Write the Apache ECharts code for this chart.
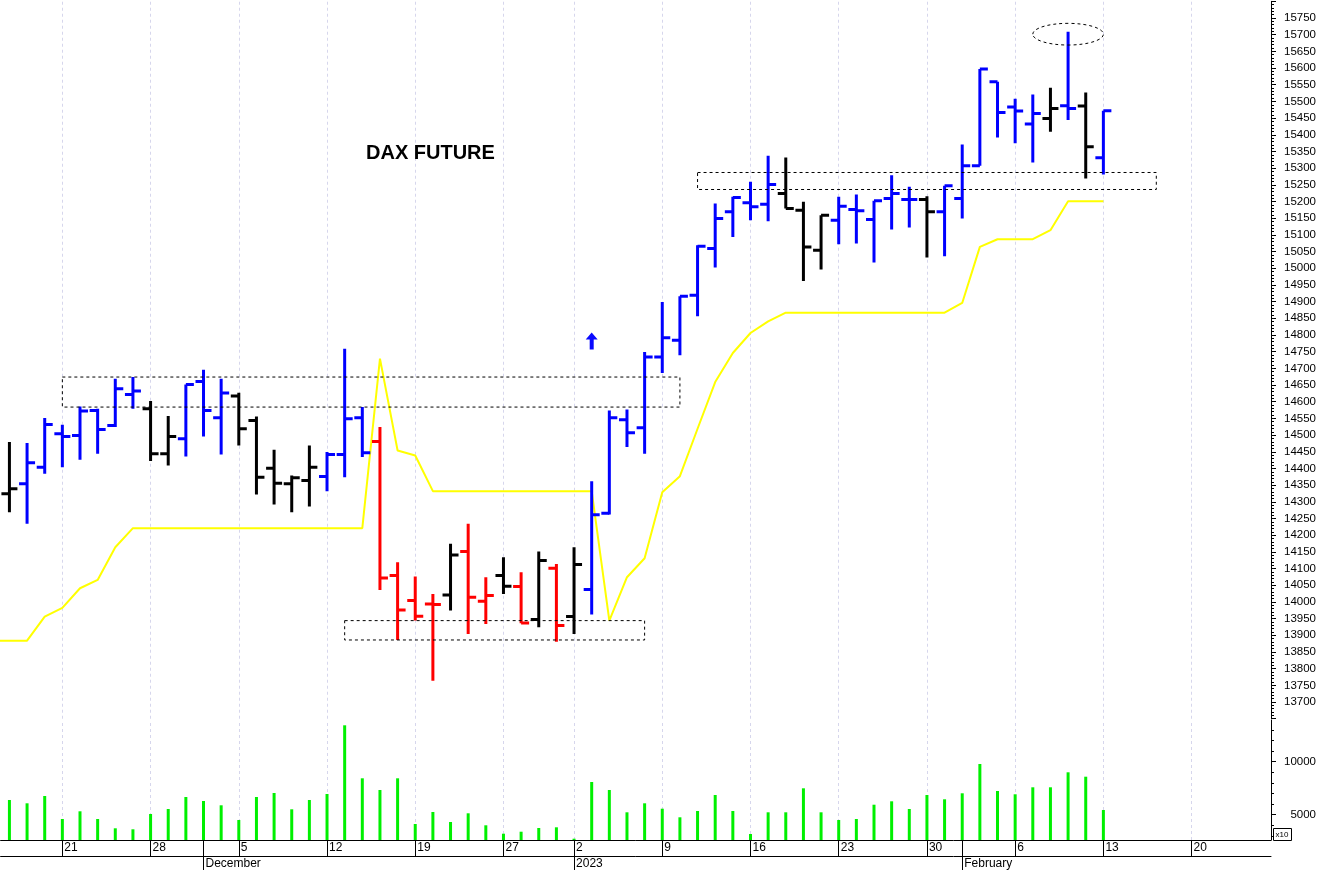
<!DOCTYPE html>
<html><head><meta charset="utf-8">
<script src="https://cdn.jsdelivr.net/npm/echarts@6/dist/echarts.min.js"></script>
<style>html,body{margin:0;padding:0;background:#fff}#c{width:1319px;height:870px}</style>
</head><body><div id="c"></div>
<script>
// ---- data ----
const dates = [
'2022-11-15','2022-11-16','2022-11-17','2022-11-18','2022-11-21','2022-11-22','2022-11-23','2022-11-24','2022-11-25','2022-11-28','2022-11-29','2022-11-30',
'2022-12-01','2022-12-02','2022-12-05','2022-12-06','2022-12-07','2022-12-08','2022-12-09','2022-12-12','2022-12-13','2022-12-14','2022-12-15','2022-12-16','2022-12-19','2022-12-20','2022-12-21','2022-12-22','2022-12-23','2022-12-27','2022-12-28','2022-12-29','2022-12-30',
'2023-01-02','2023-01-03','2023-01-04','2023-01-05','2023-01-06','2023-01-09','2023-01-10','2023-01-11','2023-01-12','2023-01-13','2023-01-16','2023-01-17','2023-01-18','2023-01-19','2023-01-20','2023-01-23','2023-01-24','2023-01-25','2023-01-26','2023-01-27','2023-01-30','2023-01-31',
'2023-02-01','2023-02-02','2023-02-03','2023-02-06','2023-02-07','2023-02-08','2023-02-09','2023-02-10','2023-02-13','2023-02-14','2023-02-15','2023-02-16','2023-02-17','2023-02-20','2023-02-21','2023-02-22','2023-02-23','2023-02-24'];

const opens = [null,14324,14354,14404,14504,14499,14574,14529,14622,14579,14444,14489,
14661,14552,14617,14544,14401,14354,14364,14376,14442,14552,14481,14079,14004,13994,14021,14151,14002,14079,14046,13947,14101,
13956,14037,14266,14546,14522,14734,14784,14919,15059,15169,15196,15192,15224,15174,15054,15144,15176,15146,15209,15206,15206,15169,
15209,15307,15559,15483,15432,15449,15487,15486,15331];
const highs = [null,14479,14476,14551,14531,14586,14579,14669,14674,14602,14557,14652,
14696,14669,14627,14556,14456,14379,14469,14449,14759,14584,14524,14119,14076,14024,14174,14234,14074,14134,14089,14151,14114,
14164,14362,14574,14577,14749,14899,14916,15069,15194,15214,15259,15337,15332,15199,15159,15214,15221,15202,15279,15244,15216,15247,
15371,15597,15559,15508,15521,15541,15709,15527,15472];
const lows = [null,14269,14234,14384,14404,14426,14444,14524,14579,14422,14409,14436,
14496,14442,14469,14322,14292,14269,14286,14332,14374,14434,14036,13886,13944,13764,13974,13904,13934,14024,13936,13924,13881,
13904,13962,14262,14464,14444,14686,14739,14856,15002,15094,15144,15141,15179,14962,14996,15072,15074,15017,15116,15122,15032,15036,
15149,15307,15392,15375,15317,15409,15444,15269,15281];
const closes = [null,14339,14417,14532,14496,14572,14517,14639,14632,14444,14496,14652,
14574,14626,14519,14374,14356,14372,14404,14442,14549,14447,14072,13976,13957,13992,14141,14014,14019,14047,13937,14124,13929,
14112,14261,14552,14507,14734,14792,14916,15066,15149,15212,15184,15251,15179,15064,15159,15186,15172,15202,15224,15206,15169,15247,
15307,15597,15467,15471,15464,15479,15479,15364,15472];
// b = blue, k = black, r = red
const barColors = [null,'k','b','b','b','b','b','b','b','k','k','b',
'b','b','k','k','k','k','k','b','b','b','r','r','r','r','k','r','r','k','r','k','r',
'k','b','b','b','b','b','b','b','b','b','b','b','k','k','k','b','b','b','b','b','k','b',
'b','b','b','b','b','k','b','k','b'];
const stopLine = [13884,13884,13884,13956,13982,14041,14066,14164,14221,14221,14221,14221,
14221,14221,14221,14221,14221,14221,14221,14221,14221,14221,14729,14454,14439,14332,14332,14332,14332,14332,14332,14332,14332,
14332,14332,13944,14074,14131,14329,14377,14519,14659,14746,14806,14841,14867,14867,14867,14867,14867,14867,14867,14867,14867,14867,
14896,15064,15087,15087,15087,15114,15201,15201,15201];
const volumes = [null,6387,6075,6764,4594,5321,4594,3717,3623,5066,5538,6670,
6292,5887,4500,6670,7047,5509,6387,6953,13434,8434,7330,8434,4123,5255,4311,5132,4000,3208,3396,3745,3811,
2736,8085,7330,5226,6075,5566,4755,5349,6858,5349,3179,5226,5226,7490,5226,4500,4594,5943,6264,5538,6858,6453,
7019,9783,7236,6925,7585,7585,9000,8585,5443];

const weekStarts = ['2022-11-21','2022-11-28','2022-12-05','2022-12-12','2022-12-19','2022-12-27','2023-01-02','2023-01-09','2023-01-16','2023-01-23','2023-01-30','2023-02-06','2023-02-13','2023-02-20'];
const monthStarts = ['2022-12-01','2023-01-02','2023-02-01'];
const monthLabels = ['December','2023','February'];
const priceTicks = {min: 13650, max: 15800, step: 50, firstLabel: 13700, lastLabel: 15750};
const volumeLabels = [5000, 10000];
const volumeMinor = [3000,4000,6000,7000,8000,9000,11000,12000,13000];

// annotations
const boxes = [
  {from:'2022-11-21', to:'2023-01-10', top:14674, bottom:14584},
  {from:'2022-12-13', to:'2023-01-06', top:13944, bottom:13886},
  {from:'2023-01-11', to:'2023-02-16', top:15287, bottom:15236}
];
const ellipseMark = {from:'2023-02-07', to:'2023-02-13', top:15734, bottom:15669};
const arrowMark = {date:'2023-01-03', price:14782};

// ---- chart ----
const colorMap = {b:'#0000ff', k:'#000000', r:'#ff0000'};
const weekSet = new Set(weekStarts);
const monthSet = new Set(monthStarts);
const tickSet = new Set(weekStarts.concat(monthStarts));
const FONT = 'Liberation Sans, Arial, sans-serif';
const FIRST_VISIBLE = 1; // first category shown at the left edge (the one before is cut off)

const ohlcData = [];
for (let i = 0; i < opens.length; i++) {
  if (opens[i] == null) continue;
  ohlcData.push([i, opens[i], highs[i], lows[i], closes[i]]);
}
const gridLines = {
  silent: true, symbol: ['none','none'], z: 1, animation: false,
  label: {show: false},
  lineStyle: {color: '#d6d6ec', type: [3,3], width: 1},
  data: weekStarts.map(d => ({xAxis: d}))
};

const chart = echarts.init(document.getElementById('c'), null, {renderer: 'canvas'});
const gridLeft = 0.6, gridRight = 47.9;
chart.setOption({
  animation: false,
  backgroundColor: '#ffffff',
  title: {text: 'DAX FUTURE', left: 366, top: 143, padding: 0,
    textStyle: {fontFamily: FONT, fontSize: 20, fontWeight: 'bold', color: '#000'}},
  grid: [
    {left: gridLeft, right: gridRight, top: 1.32, height: 717.4},
    {left: gridLeft, right: gridRight, top: 720, height: 120}
  ],
  xAxis: [
    {type: 'category', gridIndex: 0, data: dates, min: FIRST_VISIBLE, boundaryGap: true, show: false},
    {type: 'category', gridIndex: 1, data: dates, min: FIRST_VISIBLE, boundaryGap: true, position: 'bottom',
      axisLine: {show: true, lineStyle: {color: '#000', width: 1}},
      axisTick: {show: true, alignWithLabel: true, length: 16, lineStyle: {color: '#000'},
        interval: (i, v) => tickSet.has(v)},
      axisLabel: {show: true, interval: (i, v) => weekSet.has(v), formatter: v => String(parseInt(v.slice(8), 10)),
        align: 'left', margin: 2, padding: [0,0,0,2], fontSize: 12, fontFamily: FONT, color: '#000'},
      splitLine: {show: false}},
    {type: 'category', gridIndex: 1, data: dates, min: FIRST_VISIBLE, boundaryGap: true, position: 'bottom', offset: 16,
      axisLine: {show: true, lineStyle: {color: '#000', width: 1}},
      axisTick: {show: true, alignWithLabel: true, length: 14, lineStyle: {color: '#000'},
        interval: (i, v) => monthSet.has(v)},
      axisLabel: {show: true, interval: (i, v) => monthSet.has(v), formatter: v => monthLabels[monthStarts.indexOf(v)] || '',
        align: 'left', margin: 2, padding: [0,0,0,2], fontSize: 12, fontFamily: FONT, color: '#000'},
      splitLine: {show: false}}
  ],
  yAxis: [
    {type: 'value', gridIndex: 0, position: 'right', min: priceTicks.min, max: priceTicks.max, interval: priceTicks.step,
      axisLine: {show: true, lineStyle: {color: '#000'}},
      axisTick: {show: true, length: 5, lineStyle: {color: '#000'}},
      minorTick: {show: true, splitNumber: 5, length: 3, lineStyle: {color: '#000'}},
      axisLabel: {formatter: v => (v < priceTicks.firstLabel || v > priceTicks.lastLabel) ? '' : String(v),
        align: 'right', margin: 45, fontSize: 11.5, fontFamily: FONT, color: '#000'},
      splitLine: {show: false}},
    {type: 'value', gridIndex: 1, position: 'right', min: 2613, max: 13934,
      axisLine: {show: true, lineStyle: {color: '#000'}},
      axisTick: {show: true, length: 5, customValues: volumeLabels, lineStyle: {color: '#000'}},
      axisLabel: {customValues: volumeLabels, formatter: v => String(v),
        align: 'right', margin: 45, fontSize: 11.5, fontFamily: FONT, color: '#000'},
      splitLine: {show: false}},
    {type: 'value', gridIndex: 1, position: 'right', min: 2613, max: 13934,
      axisLine: {show: false},
      axisTick: {show: true, length: 3, customValues: volumeMinor, lineStyle: {color: '#000'}},
      axisLabel: {show: false},
      splitLine: {show: false}}
  ],
  series: [
    {type: 'line', name: 'stop', xAxisIndex: 0, yAxisIndex: 0, data: stopLine, showSymbol: false, symbol: 'none',
      clip: true,
      lineStyle: {color: '#ffff00', width: 2}, itemStyle: {color: '#ffff00'}, z: 2,
      markLine: gridLines,
      markArea: {silent: true, z: 6,
        itemStyle: {color: 'rgba(0,0,0,0)', borderColor: '#000', borderWidth: 1, borderType: [3,3]},
        label: {show: false},
        data: boxes.map(b => [{xAxis: b.from, yAxis: b.top}, {xAxis: b.to, yAxis: b.bottom}])},
      markPoint: {silent: true, label: {show: false},
        data: [{coord: [arrowMark.date, arrowMark.price],
          symbol: 'path://M6,0 L12,7 L8,7 L8,17 L4,17 L4,7 L0,7 Z', symbolSize: [12,17],
          itemStyle: {color: '#0a0aff'}}]}
    },
    {type: 'custom', name: 'ohlc', xAxisIndex: 0, yAxisIndex: 0, z: 4, clip: true,
      encode: {x: 0, y: [1,2,3,4]},
      data: ohlcData,
      renderItem: function (params, api) {
        const i = api.value(0);
        const pO = api.coord([i, api.value(1)]);
        const pH = api.coord([i, api.value(2)]);
        const pL = api.coord([i, api.value(3)]);
        const pC = api.coord([i, api.value(4)]);
        const x = pH[0];
        const style = {stroke: colorMap[barColors[i]], lineWidth: 3};
        return {type: 'group', children: [
          {type: 'line', shape: {x1: x, y1: pH[1], x2: x, y2: pL[1]}, style: style},
          {type: 'line', shape: {x1: x - 8, y1: pO[1], x2: x, y2: pO[1]}, style: style},
          {type: 'line', shape: {x1: x, y1: pC[1], x2: x + 8, y2: pC[1]}, style: style}
        ]};
      }
    },
    {type: 'custom', name: 'ellipse', xAxisIndex: 0, yAxisIndex: 0, z: 6,
      encode: {x: [0,1], y: [2,3]},
      data: [[dates.indexOf(ellipseMark.from), dates.indexOf(ellipseMark.to), ellipseMark.top, ellipseMark.bottom]],
      renderItem: function (params, api) {
        const p1 = api.coord([api.value(0), api.value(2)]);
        const p2 = api.coord([api.value(1), api.value(3)]);
        return {type: 'ellipse',
          shape: {cx: (p1[0] + p2[0]) / 2, cy: (p1[1] + p2[1]) / 2, rx: Math.abs(p2[0] - p1[0]) / 2, ry: Math.abs(p2[1] - p1[1]) / 2},
          style: {fill: 'none', stroke: '#000', lineWidth: 1, lineDash: [3,3]}};
      }
    },
    {type: 'bar', name: 'volume', xAxisIndex: 1, yAxisIndex: 1, data: volumes, barWidth: 3, clip: true,
      itemStyle: {color: '#00f000'}, z: 3,
      markLine: gridLines}
  ],
  graphic: [
    {type: 'group', left: 1273, top: 828, children: [
      {type: 'rect', shape: {x: 0, y: 0, width: 18, height: 12}, style: {fill: '#fff', stroke: '#000', lineWidth: 1}},
      {type: 'text', x: 2, y: 2, style: {text: 'x10', fontSize: 8, fontFamily: FONT, fill: '#000'}}
    ]}
  ]
});
</script>
</body></html>
